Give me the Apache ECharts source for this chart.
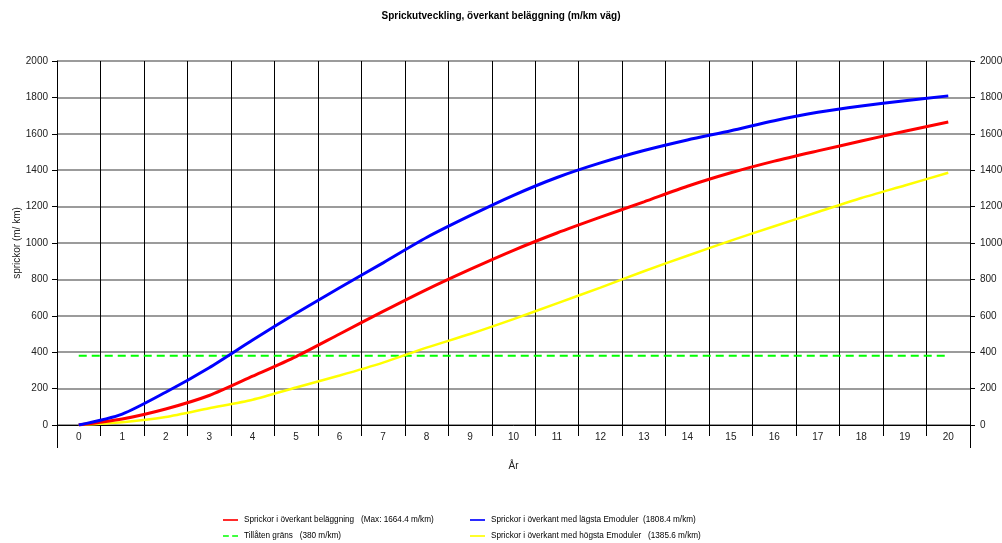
<!DOCTYPE html>
<html>
<head>
<meta charset="utf-8">
<script src="https://cdn.jsdelivr.net/npm/echarts@6/dist/echarts.min.js"></script>
<style>
  html, body { margin: 0; padding: 0; background: #fff; }
  #chart { width: 1002px; height: 543px; }
</style>
</head>
<body>
<div id="chart"></div>
<script>
// År 0..20
const years = ['0', '1', '2', '3', '4', '5', '6', '7', '8', '9', '10',
  '11', '12', '13', '14', '15', '16', '17', '18', '19', '20'];

const yTicks = [0, 200, 400, 600, 800, 1000, 1200, 1400, 1600, 1800, 2000];

// sprickor i överkant beläggning
const redVals = [0, 33, 88, 162, 268, 376, 500, 624, 744, 855, 960,
  1055, 1142, 1226, 1312, 1386, 1450, 1506, 1560, 1614, 1664.4];
// lägsta Emoduler
const blueVals = [0, 60, 180, 315, 467, 614, 754, 891, 1030, 1150, 1262,
  1360, 1440, 1508, 1566, 1617, 1672, 1718, 1753, 1782, 1808.4];
// högsta Emoduler
const yellowVals = [0, 15, 44, 92, 139, 206, 272, 343, 425, 500, 582,
  668, 755, 845, 930, 1013, 1092, 1170, 1247, 1316, 1385.6];
// tillåten gräns
const limitVals = years.map(() => 380);

const names = {
  red: 'Sprickor i överkant beläggning   (Max: 1664.4 m/km)',
  blue: 'Sprickor i överkant med lägsta Emoduler  (1808.4 m/km)',
  green: 'Tillåten gräns   (380 m/km)',
  yellow: 'Sprickor i överkant med högsta Emoduler   (1385.6 m/km)'
};

const font = 'Liberation Sans';
const solidIcon = 'path://M0,0H18V2H0Z';
const dashIcon = 'path://M0,0H7V2H0Z M11,0H18V2H11Z';

const chart = echarts.init(document.getElementById('chart'));

const yAxisBase = {
  type: 'value',
  min: yTicks[0],
  max: yTicks[yTicks.length - 1],
  interval: 200,
  axisLine: { show: true, lineStyle: { color: '#000', width: 1 } },
  axisTick: { show: true, length: 5, lineStyle: { color: '#000' } },
  axisLabel: { color: '#222', fontSize: 10, fontFamily: font, margin: 9, formatter: v => String(v) }
};

const legendBase = {
  orient: 'vertical',
  top: 516,
  padding: 0,
  itemWidth: 15,
  itemHeight: 2,
  itemGap: 8,
  textStyle: { fontSize: 8.2, color: '#000', fontFamily: font, padding: [0, 0, 0, 1] }
};

const option = {
  animation: false,
  backgroundColor: '#fff',
  title: {
    text: 'Sprickutveckling, överkant beläggning (m/km väg)',
    left: 'center',
    top: 6,
    textStyle: { fontSize: 10, fontWeight: 'bold', color: '#000', fontFamily: font }
  },
  legend: [
    Object.assign({}, legendBase, {
      left: 223,
      data: [{ name: names.red, icon: solidIcon }, { name: names.green, icon: dashIcon }]
    }),
    Object.assign({}, legendBase, {
      left: 470,
      data: [{ name: names.blue, icon: solidIcon }, { name: names.yellow, icon: solidIcon }]
    })
  ],
  grid: { left: 57, right: 32, top: 61, bottom: 118, outerBoundsMode: 'none' },
  xAxis: [
    {
      type: 'category',
      data: years,
      boundaryGap: true,
      name: 'År',
      nameLocation: 'middle',
      nameGap: 36,
      nameTextStyle: { fontSize: 10, color: '#222', fontFamily: font },
      axisLine: { show: true, lineStyle: { color: '#000' } },
      axisTick: { show: true, length: 11, interval: 0, lineStyle: { color: '#000' } },
      axisLabel: { interval: 0, fontSize: 10, color: '#222', fontFamily: font, margin: 7 },
      splitLine: { show: true, interval: 0, lineStyle: { color: '#000', width: 1 } }
    },
    {
      // long ticks under both ends of the frame
      type: 'value',
      min: 0,
      max: 1,
      interval: 1,
      position: 'bottom',
      axisLine: { show: false },
      axisLabel: { show: false },
      splitLine: { show: false },
      axisTick: { show: true, length: 23, lineStyle: { color: '#000' } }
    }
  ],
  yAxis: [
    Object.assign({}, yAxisBase, {
      position: 'left',
      name: 'sprickor (m/ km)',
      nameLocation: 'middle',
      nameGap: 35,
      nameMoveOverlap: false,
      nameRotate: 90,
      nameTextStyle: { fontSize: 10, color: '#222', fontFamily: font },
      splitLine: { show: true, lineStyle: { color: '#7a7a7a', width: 1.5 } }
    }),
    Object.assign({}, yAxisBase, {
      position: 'right',
      splitLine: { show: false },
      axisLabel: { color: '#222', fontSize: 10, fontFamily: font, margin: 10, formatter: v => String(v) }
    })
  ],
  series: [
    {
      name: names.green,
      type: 'line',
      data: limitVals,
      symbol: 'none',
      z: 3,
      lineStyle: { color: '#00ff00', width: 2, type: [8, 5] },
      itemStyle: { color: '#00ff00' }
    },
    {
      name: names.yellow,
      type: 'line',
      data: yellowVals,
      symbol: 'none',
      smooth: 0.25,
      z: 4,
      lineStyle: { color: '#ffff00', width: 2.5 },
      itemStyle: { color: '#ffff00' }
    },
    {
      name: names.red,
      type: 'line',
      data: redVals,
      symbol: 'none',
      smooth: 0.25,
      z: 5,
      lineStyle: { color: '#ff0000', width: 3 },
      itemStyle: { color: '#ff0000' }
    },
    {
      name: names.blue,
      type: 'line',
      data: blueVals,
      symbol: 'none',
      smooth: 0.25,
      z: 6,
      lineStyle: { color: '#0000ff', width: 3 },
      itemStyle: { color: '#0000ff' }
    }
  ]
};

chart.setOption(option);
</script>
</body>
</html>
